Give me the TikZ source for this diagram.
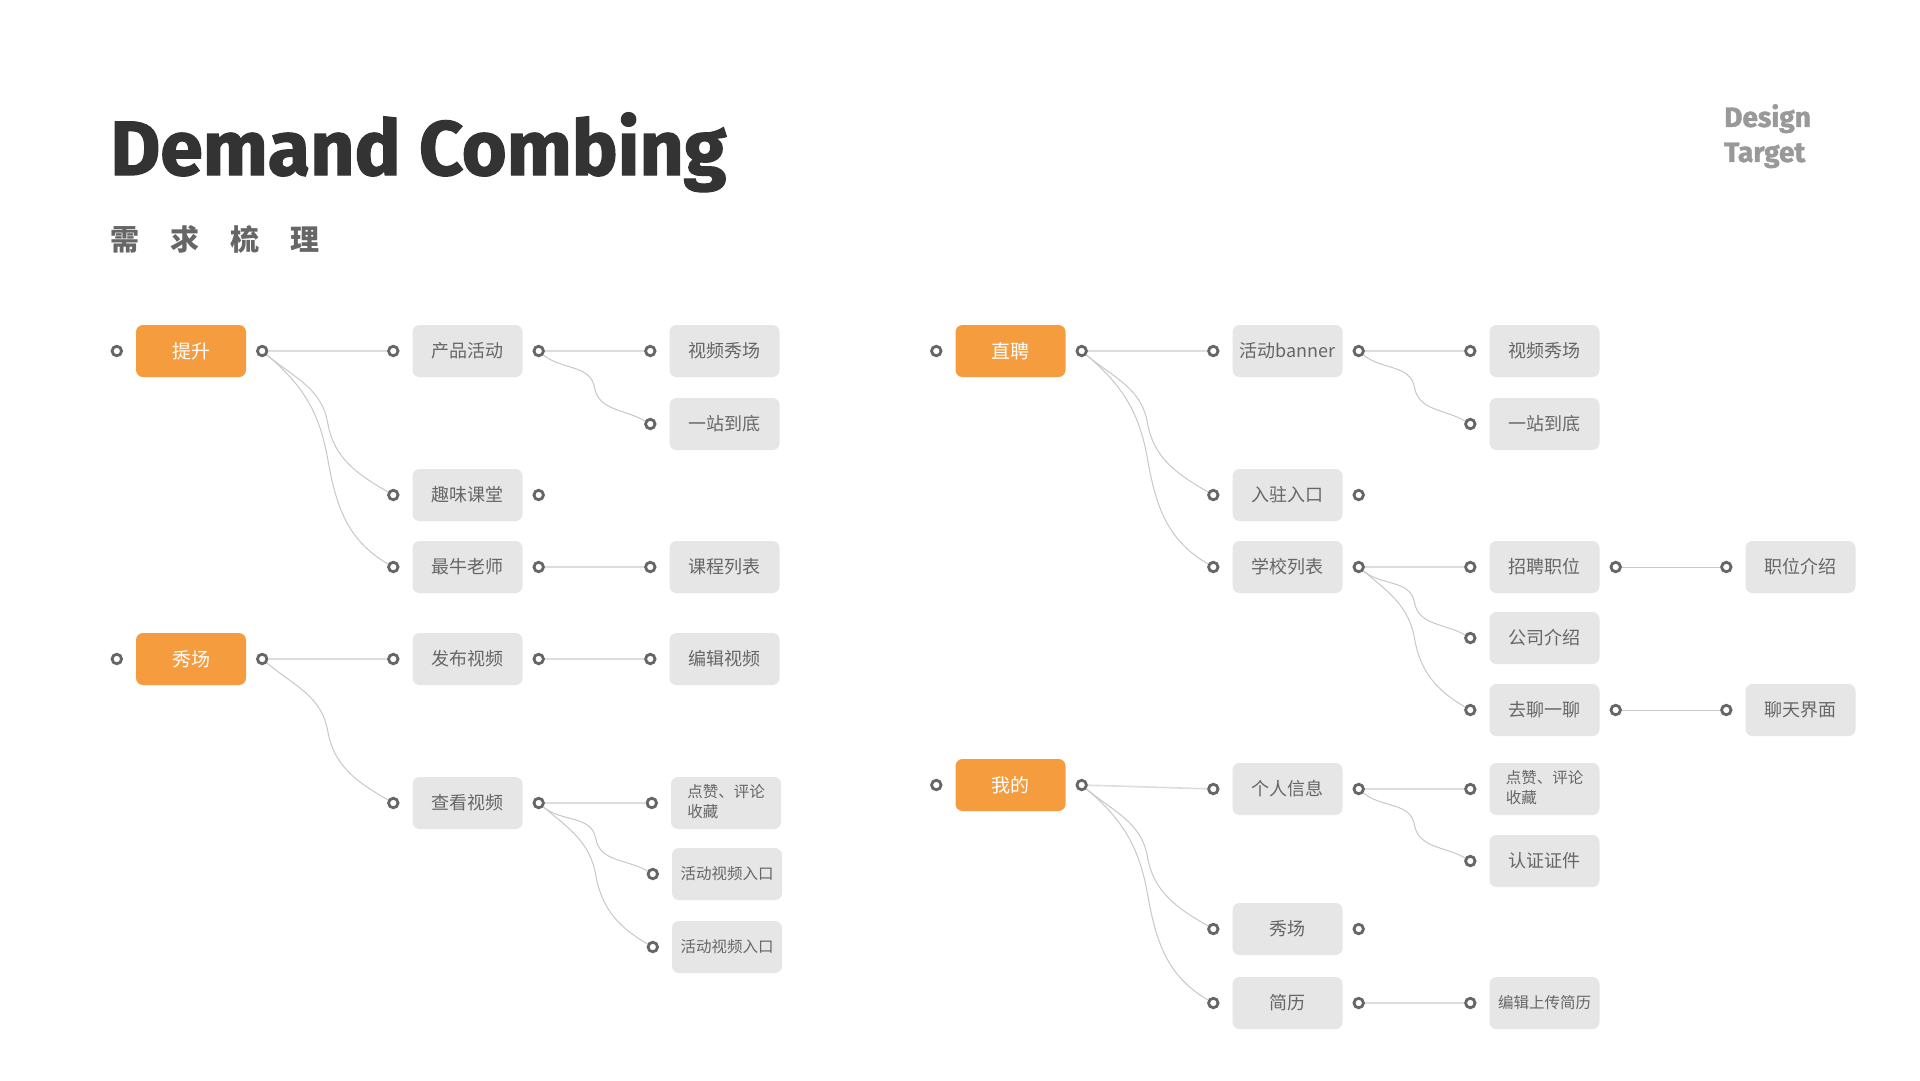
\documentclass[tikz,border=0pt]{standalone}
\usepackage{fontspec}
\setmainfont{Fira Sans}
\newfontfamily\titlefont{Fira Sans}[BoldFeatures={FakeBold=1.6}]
\newfontfamily\cjk{Noto Sans CJK SC}
\usetikzlibrary{calc}
\definecolor{orangeC}{HTML}{F49C3E}
\definecolor{boxC}{HTML}{E6E6E6}
\definecolor{txtC}{HTML}{666666}
\definecolor{portC}{HTML}{666666}
\definecolor{lineC}{HTML}{DDDDDD}
\definecolor{curveC}{HTML}{C8C8C8}
\definecolor{titleC}{HTML}{333333}
\definecolor{subC}{HTML}{666666}
\definecolor{designC}{HTML}{999999}
\tikzset{
  base/.style={rounded corners=7pt, minimum width=110pt, minimum height=52pt, inner sep=0pt},
  rootbox/.style={base, fill=orangeC, text=white, font=\cjk\fontsize{19}{23}\selectfont},
  leafbox/.style={base, fill=boxC, text=txtC, font=\cjk\fontsize{18}{22}\selectfont},
  smallbox/.style={base, fill=boxC, text=txtC, font=\cjk\fontsize{15.5}{20}\selectfont},
  port/.style={circle, draw=portC, line width=2.8pt, fill=white, minimum size=9.5pt, inner sep=0pt},
  straight/.style={draw=lineC, line width=1.6pt},
  curvy/.style={draw=curveC, line width=1pt},
}
\newcommand\Nd[5]{%
  \node[#2] (#1) at (#3,#4) {#5};
  \node[port] (#1-l) at ($(#1.west)+(-19,0)$) {};}
\newcommand\Rp[1]{\node[port] (#1-r) at ($(#1.east)+(16,0)$) {};}
\newcommand\St[2]{\draw[straight] (#1-r) -- (#2-l);}
\newcommand\Cv[2]{\draw[curvy] (#1-r) to[out=-40,in=100] ($(#1-r)!0.5!(#2-l)$) to[out=-80,in=150] (#2-l);}
\begin{document}
\begin{tikzpicture}[x=1pt,y=-1pt]
\useasboundingbox[fill=white] (0,0) rectangle (1920,1080);
% titles
\node[anchor=base west, inner sep=0pt, text=titleC, font=\titlefont\fontsize{77}{80}\selectfont\bfseries] (title) at (110,175) {Demand Combing};
\node[anchor=west, inner sep=0pt, text=subC, font=\cjk\bfseries\fontsize{29}{32}\selectfont] (subtitle) at (110,239) {需\hspace{31pt}求\hspace{31pt}梳\hspace{31pt}理};
\node[anchor=north west, inner sep=0pt, text=designC, align=left, font=\titlefont\fontsize{28}{35}\selectfont\bfseries] (design) at (1724,104) {Design\\Target};
% left tree
\Nd{A0}{rootbox}{191}{351}{提升}\Rp{A0}
\Nd{A1}{leafbox}{467.5}{351}{产品活动}\Rp{A1}
\Nd{A11}{leafbox}{724.5}{351}{视频秀场}
\Nd{A12}{leafbox}{724.5}{424}{一站到底}
\Nd{A2}{leafbox}{467.5}{495}{趣味课堂}\Rp{A2}
\Nd{A3}{leafbox}{467.5}{567}{最牛老师}\Rp{A3}
\Nd{A31}{leafbox}{724.5}{567}{课程列表}
\Nd{B0}{rootbox}{191}{659}{秀场}\Rp{B0}
\Nd{B1}{leafbox}{467.5}{659}{发布视频}\Rp{B1}
\Nd{B11}{leafbox}{724.5}{659}{编辑视频}
\Nd{B2}{leafbox}{467.5}{803}{查看视频}\Rp{B2}
\Nd{B21}{smallbox}{726}{803}{\begin{tabular}{@{}l@{}}点赞、评论\\收藏\end{tabular}}
\Nd{B22}{smallbox}{727}{874}{活动视频入口}
\Nd{B23}{smallbox}{727}{947}{活动视频入口}
% right tree
\Nd{C0}{rootbox}{1010.5}{351}{直聘}\Rp{C0}
\Nd{C1}{leafbox}{1287.5}{351}{活动banner}\Rp{C1}
\Nd{C11}{leafbox}{1544.5}{351}{视频秀场}
\Nd{C12}{leafbox}{1544.5}{424}{一站到底}
\Nd{C2}{leafbox}{1287.5}{495}{入驻入口}\Rp{C2}
\Nd{C3}{leafbox}{1287.5}{567}{学校列表}\Rp{C3}
\Nd{C31}{leafbox}{1544.5}{567}{招聘职位}\Rp{C31}
\Nd{C311}{leafbox}{1800.5}{567}{职位介绍}
\Nd{C32}{leafbox}{1544.5}{638}{公司介绍}
\Nd{C33}{leafbox}{1544.5}{710}{去聊一聊}\Rp{C33}
\Nd{C331}{leafbox}{1800.5}{710}{聊天界面}
\Nd{D0}{rootbox}{1010.5}{785}{我的}\Rp{D0}
\Nd{D1}{leafbox}{1287.5}{789}{个人信息}\Rp{D1}
\Nd{D11}{smallbox}{1544.5}{789}{\begin{tabular}{@{}l@{}}点赞、评论\\收藏\end{tabular}}
\Nd{D12}{leafbox}{1544.5}{861}{认证证件}
\Nd{D2}{leafbox}{1287.5}{929}{秀场}\Rp{D2}
\Nd{D3}{leafbox}{1287.5}{1003}{简历}\Rp{D3}
\Nd{D31}{smallbox}{1544.5}{1003}{编辑上传简历}
% connectors
\St{A0}{A1}\Cv{A0}{A2}\Cv{A0}{A3}
\St{A1}{A11}\Cv{A1}{A12}
\St{A3}{A31}
\St{B0}{B1}\Cv{B0}{B2}
\St{B1}{B11}
\St{B2}{B21}\Cv{B2}{B22}\Cv{B2}{B23}
\St{C0}{C1}\Cv{C0}{C2}\Cv{C0}{C3}
\St{C1}{C11}\Cv{C1}{C12}
\St{C3}{C31}\Cv{C3}{C32}\Cv{C3}{C33}
\draw[curvy] (C31-r) -- (C311-l);
\draw[curvy] (C33-r) -- (C331-l);
\St{D0}{D1}\Cv{D0}{D2}\Cv{D0}{D3}
\St{D1}{D11}\Cv{D1}{D12}
\St{D3}{D31}
\end{tikzpicture}
\end{document}
